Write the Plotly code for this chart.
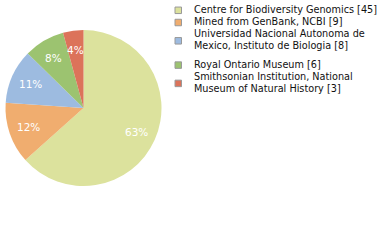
import math
import textwrap
import plotly.graph_objects as go

# ---- data ----
institutions = [
    "Centre for Biodiversity Genomics",
    "Mined from GenBank, NCBI",
    "Universidad Nacional Autonoma de Mexico, Instituto de Biologia",
    "Royal Ontario Museum",
    "Smithsonian Institution, National Museum of Natural History",
]
counts = [45, 9, 8, 6, 3]
colors = ["#dce29d", "#f0ad6f", "#9dbbe0", "#9cc370", "#dc735a"]

W, H = 380, 240
total = sum(counts)
pct_text = [f"{math.floor(100 * c / total)}%" for c in counts]

# pie geometry (pixels)
px0, px1, py0, py1 = 5, 162, 30, 186
cx, cy = (px0 + px1) / 2, (py0 + py1) / 2
rad = min(px1 - px0, py1 - py0) / 2

fig = go.Figure()
fig.add_trace(go.Pie(
    values=counts,
    labels=institutions,
    textinfo="none",
    marker=dict(colors=colors, line=dict(color="white", width=0)),
    sort=False,
    direction="clockwise",
    rotation=0,
    hoverinfo="skip",
    showlegend=False,
    domain=dict(x=[px0 / W, px1 / W], y=[1 - py1 / H, 1 - py0 / H]),
))

annotations = []
# percentage labels placed at 0.75 radius on each slice's mid-angle
cum = 0
for c, t in zip(counts, pct_text):
    theta = (cum + c / 2) / total * 2 * math.pi
    cum += c
    lx = cx + 0.75 * rad * math.sin(theta)
    ly = cy - 0.75 * rad * math.cos(theta)
    annotations.append(dict(
        x=lx / W, y=1 - ly / H, xref="paper", yref="paper",
        xanchor="center", yanchor="middle", showarrow=False, text=t,
        font=dict(family="DejaVu Sans", size=10.5, color="white"),
    ))

# ---- legend drawn as annotations + shapes ----
shapes = []
line_h = 12.2
extra_gap = 6.0
y = 8.8  # centre of first text line (px from top)
text_x = 192
for name, cnt, col in zip(institutions, counts, colors):
    lines = textwrap.wrap(f"{name} [{cnt}]", width=38)
    first = y
    for ln in lines:
        annotations.append(dict(
            x=text_x / W, y=1 - (y + 0.5) / H, xref="paper", yref="paper",
            xanchor="left", yanchor="middle", showarrow=False, text=ln,
            font=dict(family="DejaVu Sans", size=9.7, color="#111111"),
        ))
        y += line_h
    last = y - line_h
    sy = (first + last) / 2 + 1.5
    shapes.append(dict(
        type="rect", xref="paper", yref="paper",
        x0=175 / W, x1=181.5 / W, y0=1 - (sy - 3.25) / H, y1=1 - (sy + 3.25) / H,
        fillcolor=col, line=dict(color="#999999", width=1),
    ))
    if len(lines) > 1:
        y += extra_gap

fig.update_layout(
    width=W, height=H,
    margin=dict(l=0, r=0, t=0, b=0),
    paper_bgcolor="white", plot_bgcolor="white",
    annotations=annotations, shapes=shapes,
    showlegend=False,
)
fig.write_html("out.html")
